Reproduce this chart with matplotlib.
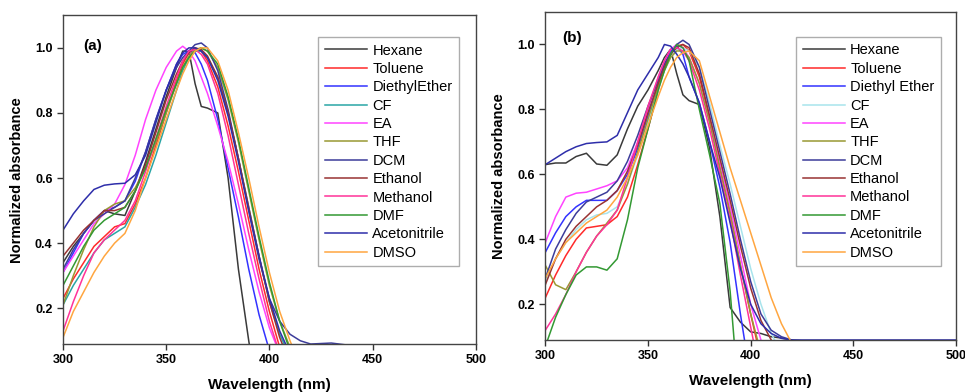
import numpy as np
import matplotlib
matplotlib.use("Agg")
import matplotlib.pyplot as plt

plt.rcParams['font.family'] = ['Liberation Sans', 'DejaVu Sans']

nan = np.nan

# shared wavelength grid (nm)
wl = [300, 305, 310, 315, 320, 325, 330, 335, 340, 345, 350, 355, 358, 361, 364,
      367, 370, 375, 380, 385, 390, 395, 400, 405, 410, 415, 420, 430, 440, 500]

solvents_a = ["Hexane", "Toluene", "DiethylEther", "CF", "EA", "THF", "DCM",
              "Ethanol", "Methanol", "DMF", "Acetonitrile", "DMSO"]
solvents_b = ["Hexane", "Toluene", "Diethyl Ether", "CF", "EA", "THF", "DCM",
              "Ethanol", "Methanol", "DMF", "Acetonitrile", "DMSO"]

colors_a = ["#3a3a3a", "#ff2a2a", "#3333ff", "#2aa5a5", "#ff44ff", "#999933",
            "#3c3c9a", "#993333", "#ff3399", "#339933", "#2e2eaa", "#ffa640"]
colors_b = ["#3a3a3a", "#ff2a2a", "#3333ff", "#a8e4ec", "#ff44ff", "#999933",
            "#3c3c9a", "#993333", "#ff3399", "#339933", "#2e2eaa", "#ffa640"]

# panel (a) normalized absorbance
hexane_a = [0.34, 0.39, 0.43, 0.47, 0.50, 0.49, 0.485, 0.56, 0.65, 0.75, 0.85, 0.94, 0.99, 0.99, 0.89,
            0.82, 0.815, 0.80, 0.60, 0.32, 0.10, -0.10]
toluene_a = [0.23, 0.29, 0.34, 0.39, 0.42, 0.45, 0.46, 0.52, 0.60, 0.70, 0.80, 0.90, 0.95, 0.985, 1.0,
             0.99, 0.96, 0.88, 0.76, 0.62, 0.47, 0.32, 0.19, 0.08]
diethyl_a = [0.31, 0.37, 0.43, 0.47, 0.50, 0.51, 0.53, 0.59, 0.68, 0.78, 0.87, 0.95, 0.98, 0.99, 0.985,
             0.95, 0.90, 0.78, 0.63, 0.48, 0.32, 0.18, 0.07]
cf_a = [0.21, 0.27, 0.32, 0.37, 0.41, 0.43, 0.45, 0.51, 0.58, 0.67, 0.77, 0.87, 0.93, 0.97, 0.99,
        0.99, 0.97, 0.91, 0.80, 0.66, 0.51, 0.36, 0.22, 0.12, 0.05]
ea_a = [0.31, 0.36, 0.41, 0.46, 0.49, 0.52, 0.58, 0.67, 0.78, 0.87, 0.94, 0.99, 1.005, 0.99, 0.96,
        0.91, 0.86, 0.76, 0.65, 0.52, 0.38, 0.25, 0.14, 0.06]
thf_a = [0.21, 0.30, 0.38, 0.45, 0.50, 0.52, 0.53, 0.57, 0.63, 0.71, 0.80, 0.89, 0.94, 0.975, 0.995,
         1.0, 0.99, 0.94, 0.84, 0.71, 0.56, 0.41, 0.27, 0.16, 0.08]
dcm_a = [0.32, 0.38, 0.43, 0.47, 0.49, 0.51, 0.53, 0.60, 0.68, 0.78, 0.87, 0.94, 0.97, 0.99, 1.01,
         1.015, 1.0, 0.93, 0.81, 0.66, 0.50, 0.35, 0.23, 0.16, 0.12, 0.10, 0.09, 0.093, 0.085]
ethanol_a = [0.36, 0.40, 0.44, 0.47, 0.50, 0.50, 0.51, 0.56, 0.64, 0.74, 0.84, 0.92, 0.96, 0.985, 1.0,
             0.995, 0.975, 0.91, 0.80, 0.66, 0.51, 0.36, 0.22, 0.11, 0.03]
methanol_a = [0.13, 0.22, 0.30, 0.37, 0.41, 0.44, 0.47, 0.53, 0.62, 0.72, 0.82, 0.91, 0.96, 0.99, 0.995,
              0.98, 0.95, 0.86, 0.73, 0.58, 0.43, 0.29, 0.16, 0.06]
dmf_a = [0.27, 0.33, 0.39, 0.44, 0.47, 0.49, 0.51, 0.56, 0.63, 0.72, 0.81, 0.89, 0.94, 0.97, 0.99,
         1.0, 0.99, 0.95, 0.85, 0.72, 0.57, 0.42, 0.28, 0.16, 0.07]
acn_a = [0.44, 0.49, 0.53, 0.565, 0.578, 0.582, 0.584, 0.61, 0.67, 0.77, 0.87, 0.95, 0.985, 1.0, 1.0,
         0.99, 0.97, 0.90, 0.79, 0.65, 0.50, 0.36, 0.23, 0.13, 0.06]
dmso_a = [0.11, 0.19, 0.25, 0.31, 0.36, 0.40, 0.43, 0.50, 0.60, 0.69, 0.78, 0.87, 0.92, 0.96, 0.99,
          1.0, 1.0, 0.96, 0.87, 0.74, 0.60, 0.45, 0.31, 0.19, 0.10, 0.02]

# panel (b) normalized absorbance
hexane_b = [0.63, 0.635, 0.635, 0.655, 0.665, 0.632, 0.628, 0.66, 0.74, 0.81, 0.86, 0.92, 0.96, 0.985, 0.91,
            0.845, 0.827, 0.815, 0.68, 0.47, 0.19, 0.145, 0.115, 0.11, 0.10, 0.096, 0.09]
toluene_b = [0.22, 0.29, 0.35, 0.40, 0.435, 0.44, 0.445, 0.47, 0.53, 0.63, 0.74, 0.86, 0.93, 0.97, 0.995,
             1.0, 0.98, 0.90, 0.77, 0.62, 0.48, 0.32, 0.17, 0.03]
diethyl_b = [0.36, 0.42, 0.47, 0.50, 0.52, 0.52, 0.52, 0.55, 0.60, 0.68, 0.78, 0.88, 0.94, 0.98, 0.995,
             0.97, 0.90, 0.82, 0.70, 0.56, 0.39, 0.17, -0.03]
cf_b = [0.27, 0.34, 0.39, 0.43, 0.46, 0.475, 0.48, 0.50, 0.57, 0.66, 0.76, 0.86, 0.92, 0.96, 0.985,
        0.99, 0.98, 0.93, 0.82, 0.69, 0.57, 0.44, 0.31, 0.20, 0.11, 0.05]
ea_b = [0.39, 0.47, 0.53, 0.542, 0.545, 0.555, 0.565, 0.58, 0.62, 0.70, 0.80, 0.90, 0.95, 0.985, 1.0,
        0.99, 0.96, 0.88, 0.76, 0.64, 0.50, 0.35, 0.20, 0.09, -0.01]
thf_b = [0.32, 0.26, 0.245, 0.30, 0.36, 0.41, 0.45, 0.49, 0.57, 0.67, 0.77, 0.87, 0.92, 0.96, 0.98,
         0.98, 0.96, 0.88, 0.76, 0.62, 0.48, 0.32, 0.17, 0.05]
dcm_b = [0.28, 0.37, 0.43, 0.48, 0.515, 0.53, 0.545, 0.58, 0.64, 0.72, 0.81, 0.89, 0.94, 0.97, 1.0,
         1.013, 1.0, 0.93, 0.80, 0.67, 0.54, 0.40, 0.27, 0.17, 0.12, 0.10, 0.09, 0.085]
ethanol_b = [0.26, 0.34, 0.40, 0.44, 0.47, 0.50, 0.52, 0.55, 0.61, 0.69, 0.79, 0.88, 0.93, 0.97, 0.99,
             1.0, 0.99, 0.91, 0.78, 0.65, 0.52, 0.38, 0.25, 0.15, 0.09, 0.04]
methanol_b = [0.12, 0.17, 0.23, 0.30, 0.36, 0.41, 0.445, 0.49, 0.59, 0.70, 0.81, 0.90, 0.95, 0.985, 0.99,
              0.98, 0.95, 0.86, 0.74, 0.60, 0.46, 0.29, 0.13, -0.03]
dmf_b = [0.07, 0.16, 0.23, 0.29, 0.315, 0.315, 0.305, 0.34, 0.46, 0.62, 0.74, 0.86, 0.92, 0.97, 1.0,
         0.99, 0.95, 0.80, 0.66, 0.51, 0.24, -0.15]
acn_b = [0.63, 0.65, 0.67, 0.685, 0.695, 0.698, 0.70, 0.72, 0.79, 0.86, 0.91, 0.96, 1.0, 0.995, 0.97,
         0.94, 0.90, 0.82, 0.70, 0.59, 0.45, 0.31, 0.20, 0.14, 0.11, 0.095, 0.09, 0.09, 0.09, 0.09]
dmso_b = [0.28, 0.34, 0.39, 0.42, 0.45, 0.47, 0.49, 0.53, 0.59, 0.66, 0.75, 0.84, 0.89, 0.93, 0.96,
          0.975, 0.98, 0.95, 0.84, 0.73, 0.62, 0.52, 0.42, 0.32, 0.22, 0.14, 0.08]

series_a = [hexane_a, toluene_a, diethyl_a, cf_a, ea_a, thf_a, dcm_a,
            ethanol_a, methanol_a, dmf_a, acn_a, dmso_a]
series_b = [hexane_b, toluene_b, diethyl_b, cf_b, ea_b, thf_b, dcm_b,
            ethanol_b, methanol_b, dmf_b, acn_b, dmso_b]


def pad(vals):
    # curves end once they leave the bottom of the axes
    return list(vals) + [nan] * (len(wl) - len(vals))


def draw_panel(ax, series, names, colors, tag, tagpos, legpos):
    for vals, name, c in zip(series, names, colors):
        ax.plot(wl, pad(vals), color=c, lw=1.1, label=name)
    ax.set_xlim(300, 500)
    ax.set_ylim(0.09, 1.1)
    ax.set_xticks([300, 350, 400, 450, 500])
    ax.set_yticks([0.2, 0.4, 0.6, 0.8, 1.0])
    ax.tick_params(direction='out', length=4, width=1, colors='#333333', labelsize=9)
    for lab in ax.get_xticklabels() + ax.get_yticklabels():
        lab.set_fontweight('bold')
        lab.set_color('black')
    for sp in ax.spines.values():
        sp.set_color('#444444')
        sp.set_linewidth(1.0)
    ax.set_xlabel("Wavelength (nm)", fontsize=11, fontweight='bold', labelpad=8)
    ax.set_ylabel("Normalized absorbance", fontsize=10.5, fontweight='bold', labelpad=8)
    ax.text(tagpos[0], tagpos[1], tag, transform=ax.transAxes, fontsize=11,
            fontweight='bold', va='center', ha='left')
    leg = ax.legend(loc='upper right', bbox_to_anchor=legpos, borderaxespad=0,
                    fontsize=10.5, frameon=True, fancybox=False, labelspacing=0.3,
                    handlelength=2.9, handletextpad=0.35, borderpad=0.45)
    leg.get_frame().set_edgecolor('#999999')
    leg.get_frame().set_linewidth(1.0)


fig = plt.figure(figsize=(9.65, 3.92), dpi=100)
ax1 = fig.add_axes([0.0653, 0.1224, 0.4277, 0.8385])
ax2 = fig.add_axes([0.5651, 0.1327, 0.4256, 0.8367])

draw_panel(ax1, series_a, solvents_a, colors_a, "(a)", (0.048, 0.907), (0.9595, 0.934))
draw_panel(ax2, series_b, solvents_b, colors_b, "(b)", (0.042, 0.922), (0.9635, 0.924))

fig.savefig("out.png", dpi=100)
